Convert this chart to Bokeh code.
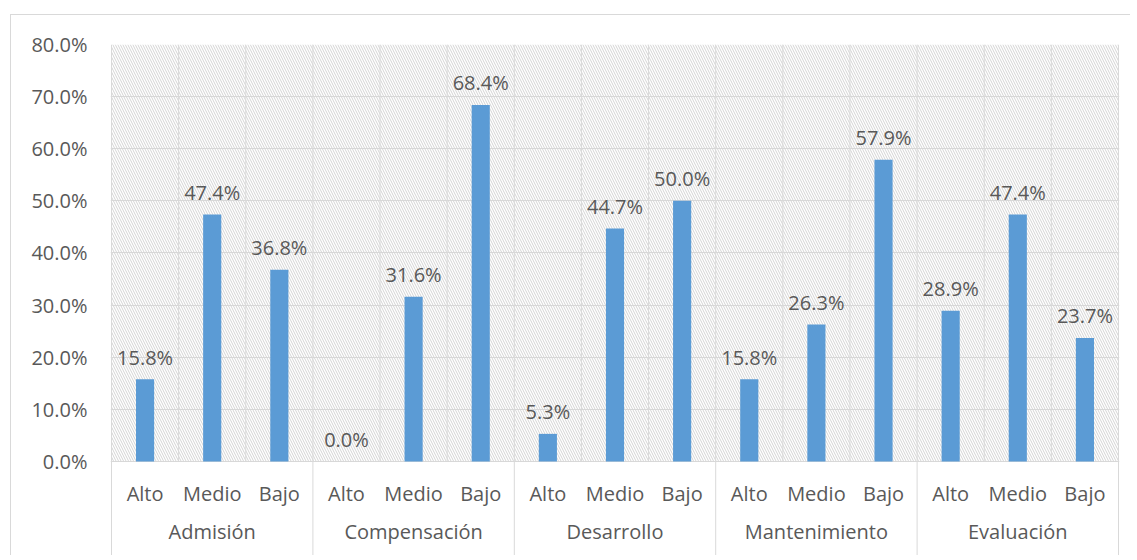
from bokeh.plotting import figure
from bokeh.models import Range1d, FixedTicker, NumeralTickFormatter, ColumnDataSource
from bokeh.core.properties import value
from bokeh.embed import file_html
from bokeh.resources import INLINE

groups = ["Admisión", "Compensación", "Desarrollo", "Mantenimiento", "Evaluación"]
levels = ["Alto", "Medio", "Bajo"]
values = [
    [0.158, 0.474, 0.368],
    [0.000, 0.316, 0.684],
    [0.053, 0.447, 0.500],
    [0.158, 0.263, 0.579],
    [0.289, 0.474, 0.237],
]
y_ticks = [0.0, 0.1, 0.2, 0.3, 0.4, 0.5, 0.6, 0.7, 0.8]

FONT = value("Open Sans")
FS = "20px"
TXT = "#595959"
GRID = "#d9d9d9"
BAR = "#5B9BD5"

n_lv = len(levels)
n = len(groups) * n_lv
xs, hs, labels, sub = [], [], [], []
for gi, g in enumerate(groups):
    for li, lv in enumerate(levels):
        i = gi * n_lv + li
        xs.append(i + 0.5)
        hs.append(values[gi][li])
        labels.append(f"{values[gi][li] * 100:.1f}%")
        sub.append(lv)

ymax = y_ticks[-1]
ybot = -0.1823

p = figure(width=1120, height=541, output_backend="svg", toolbar_location=None,
           x_range=Range1d(-0.015, n + 0.015), y_range=Range1d(ybot, ymax),
           min_border_left=99, min_border_right=12, min_border_top=29,
           min_border_bottom=0)
p.margin = (14, 0, 0, 10)
p.styles = {"border-left": f"1px solid {GRID}", "border-top": f"1px solid {GRID}"}
p.outline_line_color = None
p.background_fill_color = "white"
p.border_fill_color = "white"
p.xaxis.visible = False
p.xgrid.visible = False

p.yaxis.ticker = FixedTicker(ticks=y_ticks)
p.yaxis.formatter = NumeralTickFormatter(format="0.0%")
p.yaxis.axis_line_color = None
p.yaxis.major_tick_line_color = None
p.yaxis.minor_tick_line_color = None
p.yaxis.major_tick_out = 0
p.yaxis.major_tick_in = 0
p.yaxis.major_label_text_font = "Open Sans"
p.yaxis.major_label_text_font_size = FS
p.yaxis.major_label_text_color = TXT
p.yaxis.major_label_standoff = 23
p.ygrid.ticker = FixedTicker(ticks=y_ticks)
p.ygrid.grid_line_color = GRID
p.ygrid.grid_line_width = 1
p.ygrid.level = "underlay"

# hatched plot area
p.quad(left=[0], right=[n], bottom=[0], top=[ymax], fill_alpha=0, line_color=None,
       hatch_pattern="\\", hatch_color="#d4d4d4", hatch_scale=5, hatch_weight=1)

# inner vertical gridlines (between levels)
inner = [k for k in range(1, n) if k % n_lv != 0]
p.segment(x0=inner, y0=[0] * len(inner), x1=inner, y1=[ymax] * len(inner),
          line_color=GRID, line_width=1)
# group boundaries, extending through the category labels
bounds = list(range(0, n + 1, n_lv))
p.segment(x0=bounds, y0=[ybot] * len(bounds), x1=bounds, y1=[ymax] * len(bounds),
          line_color=GRID, line_width=1)

src = ColumnDataSource(dict(x=xs, h=hs, lab=labels, sub=sub))
p.vbar(x="x", top="h", bottom=0, width=0.27, source=src, fill_color=BAR, line_color=None)
p.text(x="x", y="h", text="lab", source=src, text_align="center",
       text_baseline="alphabetic", y_offset=-22, text_font=FONT,
       text_font_size=FS, text_color=TXT)

# category axis labels
p.text(x="x", y=0, text="sub", source=src, text_align="center",
       text_baseline="middle", y_offset=32, text_font=FONT,
       text_font_size=FS, text_color=TXT)
gx = [gi * n_lv + n_lv / 2 for gi in range(len(groups))]
p.text(x=gx, y=[0] * len(groups), text=groups, text_align="center",
       text_baseline="middle", y_offset=70, text_font=FONT,
       text_font_size=FS, text_color=TXT)

open("out.html", "w").write(file_html(p, INLINE))
